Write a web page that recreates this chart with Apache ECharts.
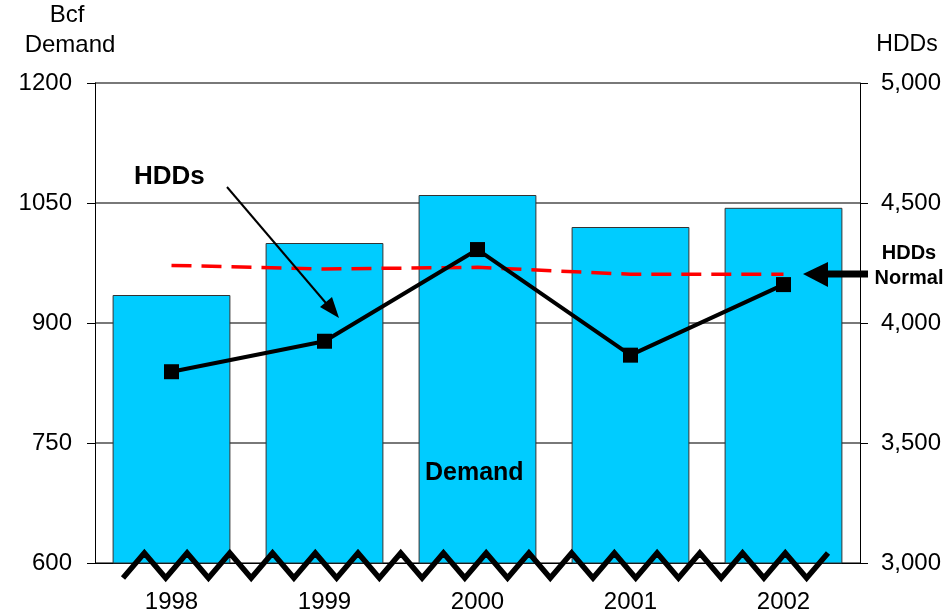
<!DOCTYPE html>
<html>
<head>
<meta charset="utf-8">
<style>
  html, body { margin: 0; padding: 0; background: #fff; }
  #main { width: 949px; height: 614px; }
</style>
<script src="https://cdn.jsdelivr.net/npm/echarts@6/dist/echarts.min.js"></script>
</head>
<body>
<div id="main"></div>
<script>
// data
var years = ['1998', '1999', '2000', '2001', '2002'];
var demand = [935, 1000, 1060, 1020, 1044];       // Bcf, left axis
var hdds = [3797, 3924, 4306, 3866, 4160];        // right axis
var hddsNormal = [4240, 4225, 4232, 4203, 4203];  // right axis, dashed

var FONT = '"Liberation Sans", Arial, sans-serif';

var chart = echarts.init(document.getElementById('main'));

// grid box
var G = { left: 95, right: 89, top: 83, bottom: 50 };

// zig-zag "broken axis" mark along the bottom
function zigzag() {
  var pts = [];
  var x0 = 123, x1 = 828, n = 33;
  for (var i = 0; i <= n; i++) {
    pts.push([x0 + (x1 - x0) * i / n, i % 2 === 0 ? 578 : 553]);
  }
  return pts;
}

var option = {
  animation: false,
  textStyle: { fontFamily: FONT },
  grid: { left: G.left, right: G.right, top: G.top, bottom: G.bottom },
  xAxis: {
    type: 'category',
    data: years,
    axisLine: { lineStyle: { color: '#000', width: 1 } },
    axisTick: { length: 10, lineStyle: { color: '#000' } },
    axisLabel: { color: '#000', fontSize: 24, margin: 27, fontFamily: FONT }
  },
  yAxis: [{
    type: 'value',
    min: 600, max: 1200, interval: 150,
    axisLine: { show: true, lineStyle: { color: '#000', width: 1 } },
    axisTick: { show: true, length: 8, lineStyle: { color: '#000' } },
    axisLabel: {
      color: '#000', fontSize: 24, margin: 23, fontFamily: FONT,
      formatter: function (v) { return String(v); }
    },
    splitLine: { lineStyle: { color: '#4d4d4d', width: 1.5 } }
  }, {
    type: 'value',
    min: 3000, max: 5000, interval: 500,
    axisLine: { show: true, lineStyle: { color: '#000', width: 1 } },
    axisTick: { show: true, length: 8, lineStyle: { color: '#000' } },
    axisLabel: {
      color: '#000', fontSize: 24, margin: 21, fontFamily: FONT,
      formatter: function (v) { return v.toLocaleString('en-US'); }
    },
    splitLine: { show: false }
  }],
  series: [{
    name: 'Demand',
    type: 'bar',
    data: demand,
    barCategoryGap: '23%',
    itemStyle: { color: '#00CCFF', borderColor: '#333', borderWidth: 1 },
    z: 2
  }, {
    name: 'HDDs Normal',
    type: 'line',
    yAxisIndex: 1,
    data: hddsNormal,
    symbol: 'none',
    lineStyle: { color: '#FF0000', width: 3.5, type: [20, 10] },
    z: 3
  }, {
    name: 'HDDs',
    type: 'line',
    yAxisIndex: 1,
    data: hdds,
    symbol: 'rect',
    symbolSize: 15,
    itemStyle: { color: '#000' },
    lineStyle: { color: '#000', width: 4 },
    z: 4
  }],
  graphic: [
    // axis titles
    { type: 'text', x: 67, y: 3, style: { text: 'Bcf', fill: '#000', align: 'center', font: '24px ' + FONT } },
    { type: 'text', x: 70, y: 33, style: { text: 'Demand', fill: '#000', align: 'center', font: '24px ' + FONT } },
    { type: 'text', x: 907, y: 33, style: { text: 'HDDs', fill: '#000', align: 'center', font: '23px ' + FONT } },
    // annotations
    { type: 'text', left: 134, top: 164, style: { text: 'HDDs', fill: '#000', font: 'bold 26px ' + FONT } },
    { type: 'text', left: 425, top: 461, z: 10, style: { text: 'Demand', fill: '#000', font: 'bold 25px ' + FONT } },
    { type: 'text', x: 909, y: 241, z: 10, style: { text: 'HDDs\nNormal', fill: '#000', align: 'center', lineHeight: 25, font: 'bold 20px ' + FONT } },
    // arrow to HDDs line
    { type: 'line', z: 10, shape: { x1: 227, y1: 187, x2: 331, y2: 309 }, style: { stroke: '#000', lineWidth: 2 } },
    { type: 'polygon', z: 10, shape: { points: [[339, 318], [320, 307], [332, 297]] }, style: { fill: '#000' } },
    // arrow to normal line
    { type: 'line', z: 10, shape: { x1: 826, y1: 274, x2: 868, y2: 274 }, style: { stroke: '#000', lineWidth: 7 } },
    { type: 'polygon', z: 10, shape: { points: [[803, 274], [828, 262], [828, 287]] }, style: { fill: '#000' } },
    // broken-axis zig-zag
    { type: 'polyline', z: 20, shape: { points: zigzag() }, style: { stroke: '#000', lineWidth: 5.5, fill: null, lineJoin: 'miter' } }
  ]
};

chart.setOption(option);
</script>
</body>
</html>
